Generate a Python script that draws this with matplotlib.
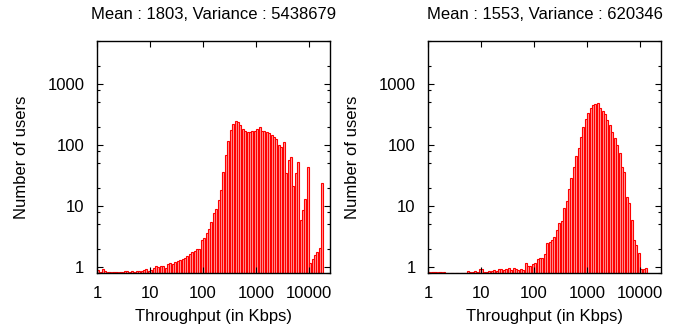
import numpy as np
import matplotlib.pyplot as plt
from matplotlib.ticker import LogLocator, FixedLocator, NullFormatter

plt.rcParams['font.family'] = ['Liberation Sans', 'DejaVu Sans']

# log-spaced bins, 22 per decade, starting at 1 Kbps
bins_per_decade = 22

# users per throughput bin (left: Mean 1803, right: Mean 1553)
left_counts = [
    0.9, 0.82, 0.93, 0.85, 0.83, 0.83, 0.84, 0.83, 0.83, 0.84,
    0.83, 0.87, 0.85, 0.84, 0.85, 0.84, 0.86, 0.86, 0.85, 0.88,
    0.92, 0.86, 0.9, 0.95, 1.04, 1.0, 1.05, 1.04, 0.95, 1.1,
    1.17, 1.12, 1.2, 1.25, 1.3, 1.34, 1.4, 1.5, 1.62, 1.75,
    1.85, 1.97, 2.0, 2.8, 3.0, 3.6, 4.2, 5.5, 7.7, 9,
    12.5, 18, 36, 68, 116, 176, 220, 250, 240, 212,
    182, 170, 164, 162, 172, 172, 183, 195, 170, 172,
    165, 155, 146, 134, 124, 100, 92, 113, 35, 57,
    64, 21, 35, 52, 5.9, 8.6, 13.2, 44, 1.15, 1.34,
    1.55, 1.76, 2.07, 24, 0,
]
right_counts = [
    0.82, 0.82, 0.82, 0.82, 0.82, 0.82, 0.82, 0.81, 0.81, 0.81,
    0.81, 0.81, 0.81, 0.81, 0.81, 0.81, 0.86, 0.82, 0.82, 0.86,
    0.84, 0.92, 0.93, 0.84, 0.83, 0.86, 0.86, 0.88, 0.86, 0.92,
    0.92, 0.88, 0.92, 0.95, 0.9, 0.95, 0.93, 0.9, 0.92, 0.88,
    1.15, 1.04, 1.05, 1.1, 1.18, 1.37, 1.42, 1.4, 1.61, 2.5,
    2.6, 2.77, 3.14, 4.0, 5.2, 5.7, 9.2, 12.1, 18.8, 28.5,
    43, 66, 91, 136, 195, 266, 336, 400, 450, 470,
    480, 400, 365, 322, 257, 212, 165, 132, 100, 73,
    44, 36, 14.2, 11, 5.9, 2.77, 2.3, 1.68, 0.92, 0.92,
    0.95, 0, 0, 0, 0,
]
titles = ['Mean : 1803, Variance : 5438679', 'Mean : 1553, Variance : 620346']
xtick_vals = [1, 10, 100, 1000, 10000]
ytick_vals = [1, 10, 100, 1000]

fig = plt.figure(figsize=(6.83, 3.27), dpi=100)
positions = [[97 / 683, 54 / 327, 233 / 683, 232 / 327],
             [428 / 683, 54 / 327, 233 / 683, 232 / 327]]

for pos, counts, title in zip(positions, [left_counts, right_counts], titles):
    ax = fig.add_axes(pos)
    n = len(counts)
    lo = 10 ** (np.arange(n) / bins_per_decade)
    hi = 10 ** ((np.arange(n) + 1) / bins_per_decade)
    frac = 0.08
    left = lo * (hi / lo) ** frac
    right = lo * (hi / lo) ** (1 - frac)
    ax.bar(left, counts, width=right - left, align='edge', bottom=1e-3,
           facecolor='#ffa0a0', edgecolor='red', linewidth=0.8)
    ax.set_xscale('log')
    ax.set_yscale('log')
    ax.set_xlim(1, 24900)
    ax.set_ylim(0.798, 5070)
    ax.xaxis.set_major_locator(FixedLocator(xtick_vals))
    ax.yaxis.set_major_locator(FixedLocator(ytick_vals))
    ax.set_xticklabels([str(v) for v in xtick_vals])
    ax.set_yticklabels([str(v) for v in ytick_vals])
    ax.xaxis.set_minor_locator(LogLocator(base=10, subs=(2, 5, 8)))
    ax.yaxis.set_minor_locator(LogLocator(base=10, subs=(2, 5, 8)))
    ax.xaxis.set_minor_formatter(NullFormatter())
    ax.yaxis.set_minor_formatter(NullFormatter())
    ax.tick_params(which='both', direction='in', top=True, right=True,
                   labelsize=12, width=0.8, color='black')
    ax.tick_params(which='major', length=4, pad=9)
    ax.tick_params(which='minor', length=2)
    for sp in ax.spines.values():
        sp.set_linewidth(1.0)
    ax.set_title(title, fontsize=12, pad=16)
    ax.set_xlabel('Throughput (in Kbps)', fontsize=12, labelpad=6)
    ax.set_ylabel('Number of users', fontsize=12, labelpad=13)

fig.savefig('out.png', dpi=100)
